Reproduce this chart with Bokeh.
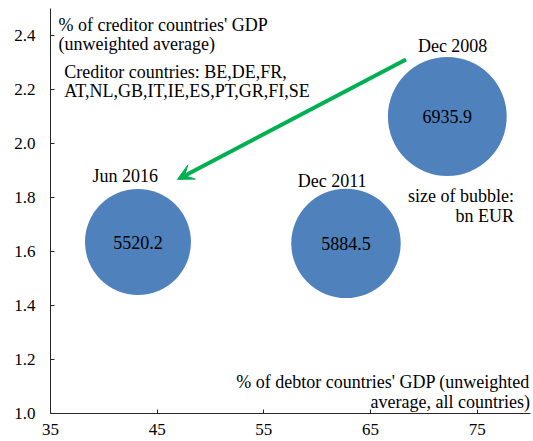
import math
from bokeh.plotting import figure
from bokeh.models import (ColumnDataSource, FixedTicker, Arrow, VeeHead, Label,
                          Range1d, NumeralTickFormatter)
from bokeh.core.properties import value
from bokeh.embed import file_html
from bokeh.resources import INLINE

# ---- data ----
periods = ["Dec 2008", "Dec 2011", "Jun 2016"]
debtor_gdp = [72.2, 62.7, 43.2]          # x: % of debtor countries' GDP
creditor_gdp = [2.10, 1.63, 1.635]       # y: % of creditor countries' GDP
stock_bn_eur = [6935.9, 5884.5, 5520.2]  # bubble size, bn EUR
x_ticks = [35, 45, 55, 65, 75]
y_ticks = [1.0, 1.2, 1.4, 1.6, 1.8, 2.0, 2.2, 2.4]

FONT = "Liberation Serif"
BLUE = "#4F81BD"
GREEN = "#00B050"

base_d = 106.0
smallest = min(stock_bn_eur)
diam = [base_d * math.sqrt(v / smallest) for v in stock_bn_eur]

src = ColumnDataSource(dict(x=debtor_gdp, y=creditor_gdp, v=stock_bn_eur,
                            d=diam, lab=["%.1f" % v for v in stock_bn_eur],
                            period=periods))

p = figure(width=533, height=441, output_backend="svg", toolbar_location=None,
           x_range=Range1d(35, 80), y_range=Range1d(1.0, 2.5),
           min_border_left=50, min_border_right=3, min_border_top=8,
           min_border_bottom=28)
p.outline_line_color = None
p.xgrid.visible = False
p.ygrid.visible = False
p.background_fill_color = "white"
p.border_fill_color = "white"

for ax in (p.xaxis[0], p.yaxis[0]):
    ax.axis_line_color = "#262626"
    ax.axis_line_width = 1
    ax.major_tick_in = 4
    ax.major_tick_out = 0
    ax.major_tick_line_color = "#262626"
    ax.minor_tick_line_color = None
    ax.major_label_text_font = FONT
    ax.major_label_text_font_size = "17px"
    ax.major_label_text_color = "black"

p.xaxis.ticker = FixedTicker(ticks=x_ticks)
p.yaxis.ticker = FixedTicker(ticks=y_ticks)
p.yaxis.formatter = NumeralTickFormatter(format="0.0")
p.xaxis.major_label_standoff = 10
p.yaxis.major_label_standoff = 15

# bubbles
p.scatter("x", "y", size="d", source=src, fill_color=BLUE, line_color=None)
p.text("x", "y", text="lab", source=src, text_font=value(FONT),
       text_font_size="18px", text_align="center", text_baseline="middle",
       text_color="black")

# period labels
period_pos = {"Dec 2008": (72.7, 2.36), "Dec 2011": (61.4, 1.86), "Jun 2016": (42.0, 1.878)}
for name in periods:
    px_, py_ = period_pos[name]
    p.add_layout(Label(x=px_, y=py_, text=name, text_font=FONT, text_font_size="18px",
                       text_align="center", text_baseline="middle", text_color="black"))

def note(x, y, txt, align="left", size="18px"):
    p.add_layout(Label(x=x, y=y, text=txt, text_font=FONT, text_font_size=size,
                       text_align=align, text_baseline="middle", text_color="black"))

note(35.75, 2.44, "% of creditor countries' GDP")
note(35.75, 2.367, "(unweighted average)")
note(36.3, 2.263, "Creditor countries: BE,DE,FR,")
note(36.3, 2.196, "AT,NL,GB,IT,IE,ES,PT,GR,FI,SE")
note(78.45, 1.807, "size of bubble:", align="right")
note(78.45, 1.733, "bn EUR", align="right")
note(79.95, 1.1185, "% of debtor countries' GDP (unweighted", align="right")
note(79.95, 1.041, "average, all countries)", align="right")

# arrow
p.add_layout(Arrow(x_start=68.33, y_start=2.311, x_end=46.9, y_end=1.867,
                   line_color=GREEN, line_width=4,
                   end=VeeHead(size=16, fill_color=GREEN, line_color=GREEN, line_width=1)))

open("out.html", "w").write(file_html(p, INLINE))
